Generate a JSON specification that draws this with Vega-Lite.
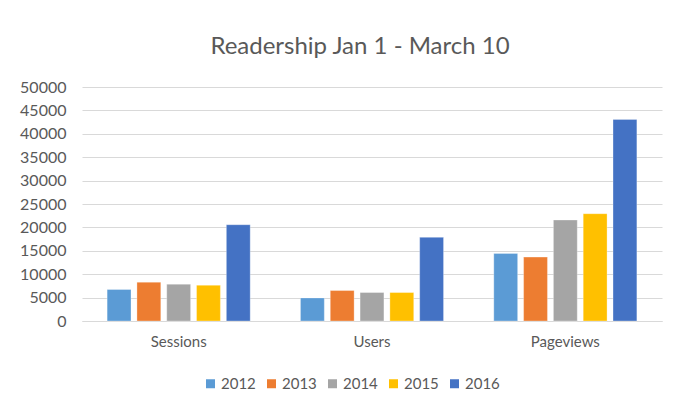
{
  "$schema": "https://vega.github.io/schema/vega-lite/v6.json",
  "width": 580,
  "height": 234,
  "autosize": {"type": "none"},
  "padding": {"left": 82, "top": 87, "right": 21, "bottom": 90},
  "background": "white",
  "title": {
    "text": "Readership Jan 1 - March 10",
    "font": "Lato",
    "fontSize": 24,
    "fontWeight": "normal",
    "color": "#595959",
    "anchor": "middle",
    "dx": -12,
    "offset": 20
  },
  "data": {
    "values": [
      {"metric": "Sessions", "year": "2012", "value": 6730},
      {"metric": "Sessions", "year": "2013", "value": 8290},
      {"metric": "Sessions", "year": "2014", "value": 7860},
      {"metric": "Sessions", "year": "2015", "value": 7640},
      {"metric": "Sessions", "year": "2016", "value": 20570},
      {"metric": "Users", "year": "2012", "value": 4930},
      {"metric": "Users", "year": "2013", "value": 6510},
      {"metric": "Users", "year": "2014", "value": 6080},
      {"metric": "Users", "year": "2015", "value": 6080},
      {"metric": "Users", "year": "2016", "value": 17870},
      {"metric": "Pageviews", "year": "2012", "value": 14440},
      {"metric": "Pageviews", "year": "2013", "value": 13650},
      {"metric": "Pageviews", "year": "2014", "value": 21580},
      {"metric": "Pageviews", "year": "2015", "value": 22930},
      {"metric": "Pageviews", "year": "2016", "value": 43080}
    ]
  },
  "mark": {"type": "bar", "stroke": "white", "strokeWidth": 0.5, "strokeOpacity": 0.6},
  "encoding": {
    "x": {
      "field": "metric",
      "type": "nominal",
      "sort": ["Sessions", "Users", "Pageviews"],
      "scale": {"paddingInner": 0.26, "paddingOuter": 0.13},
      "axis": {
        "title": null,
        "labelAngle": 0,
        "labelFont": "Lato",
        "labelFontSize": 15,
        "labelColor": "#595959",
        "labelPadding": 13,
        "ticks": false,
        "domainColor": "#D9D9D9",
        "domainWidth": 1
      }
    },
    "xOffset": {
      "field": "year",
      "type": "nominal",
      "scale": {"paddingInner": 0.2, "paddingOuter": 0}
    },
    "y": {
      "field": "value",
      "type": "quantitative",
      "scale": {"domain": [0, 50000]},
      "axis": {
        "title": null,
        "values": [0, 5000, 10000, 15000, 20000, 25000, 30000, 35000, 40000, 45000, 50000],
        "format": "d",
        "labelFont": "Lato",
        "labelFontSize": 16,
        "labelColor": "#595959",
        "labelPadding": 16,
        "ticks": false,
        "domain": false,
        "gridColor": "#D9D9D9",
        "gridWidth": 1
      }
    },
    "color": {
      "field": "year",
      "type": "nominal",
      "scale": {
        "domain": ["2012", "2013", "2014", "2015", "2016"],
        "range": ["#5B9BD5", "#ED7D31", "#A5A5A5", "#FFC000", "#4472C4"]
      },
      "legend": {
        "title": null,
        "orient": "none",
        "direction": "horizontal",
        "legendX": 121,
        "legendY": 289,
        "symbolType": "square",
        "symbolSize": 81,
        "symbolStrokeWidth": 0,
        "labelFont": "Lato",
        "labelFontSize": 15,
        "labelColor": "#595959",
        "labelOffset": 3,
        "columnPadding": 8
      }
    }
  },
  "config": {
    "view": {"stroke": null}
  }
}
